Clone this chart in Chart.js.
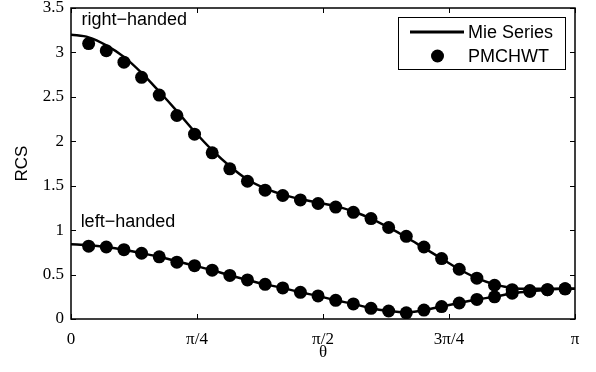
<!DOCTYPE html>
<html>
<head>
<meta charset="utf-8">
<script src="https://cdn.jsdelivr.net/npm/chart.js@4"></script>
<style>
  html, body { margin: 0; padding: 0; background: #fff; }
  canvas { display: block; }
</style>
</head>
<body>
<canvas id="rcsChart" width="596" height="372"></canvas>
<script>
// angles (rad) of the PMCHWT samples
const theta = [0.11, 0.22, 0.33, 0.44, 0.55, 0.66, 0.77, 0.88, 0.99, 1.10,
  1.21, 1.32, 1.43, 1.54, 1.65, 1.76, 1.87, 1.98, 2.09, 2.20,
  2.31, 2.42, 2.53, 2.64, 2.75, 2.86, 2.97, 3.08];
// angles of the Mie series curve (adds both ends)
const mieTheta = [0, 0.11, 0.22, 0.33, 0.44, 0.55, 0.66, 0.77, 0.88, 0.99, 1.10,
  1.21, 1.32, 1.43, 1.54, 1.65, 1.76, 1.87, 1.98, 2.09, 2.20,
  2.31, 2.42, 2.53, 2.64, 2.75, 2.86, 2.97, 3.08, 3.1416];

const mieRight = [3.20, 3.17, 3.08, 2.95, 2.77, 2.56, 2.34, 2.11, 1.90, 1.72, 1.57,
  1.47, 1.40, 1.35, 1.31, 1.27, 1.21, 1.13, 1.03, 0.92, 0.80,
  0.68, 0.56, 0.46, 0.39, 0.35, 0.34, 0.34, 0.34, 0.34];
const mieLeft = [0.84, 0.83, 0.81, 0.78, 0.74, 0.70, 0.65, 0.60, 0.55, 0.49, 0.44,
  0.39, 0.35, 0.30, 0.26, 0.21, 0.17, 0.12, 0.09, 0.075, 0.10,
  0.14, 0.18, 0.22, 0.25, 0.29, 0.31, 0.33, 0.34, 0.34];

const pmRight = [3.10, 3.02, 2.89, 2.72, 2.52, 2.29, 2.08, 1.87, 1.69, 1.55,
  1.45, 1.39, 1.34, 1.30, 1.26, 1.20, 1.13, 1.03, 0.93, 0.81,
  0.68, 0.56, 0.46, 0.38, 0.33, 0.32, 0.33, 0.34];
const pmLeft = [0.82, 0.81, 0.78, 0.74, 0.70, 0.64, 0.60, 0.55, 0.49, 0.44,
  0.39, 0.35, 0.30, 0.26, 0.21, 0.17, 0.12, 0.09, 0.07, 0.10,
  0.14, 0.18, 0.22, 0.25, 0.29, 0.31, 0.33, 0.34];

const xTickValues = [0, Math.PI / 4, Math.PI / 2, 3 * Math.PI / 4, Math.PI];
const xTickLabels = ['0', 'π/4', 'π/2', '3π/4', 'π'];
const yTickValues = [0, 0.5, 1, 1.5, 2, 2.5, 3, 3.5];

const seriesNames = ['Mie Series', 'PMCHWT'];
const notes = [
  { text: 'right−handed', x: 0.065, y: 3.31 },
  { text: 'left−handed', x: 0.06, y: 1.035 }
];

const pts = (xs, ys) => xs.map((v, i) => ({ x: v, y: ys[i] }));

const SANS = '"Liberation Sans", Arial, sans-serif';
const SERIF = '"Liberation Serif", "Times New Roman", serif';

// box, inner ticks, legend and the two labels, drawn MATLAB style
const frame = {
  id: 'frame',
  afterDraw(chart) {
    const { ctx, chartArea: a, scales: { x, y } } = chart;
    ctx.save();

    ctx.strokeStyle = '#000';
    ctx.lineWidth = 1;
    ctx.beginPath();
    const len = 5;
    x.ticks.forEach(t => {
      const px = Math.round(x.getPixelForValue(t.value)) + 0.5;
      ctx.moveTo(px, a.bottom); ctx.lineTo(px, a.bottom - len);
      ctx.moveTo(px, a.top); ctx.lineTo(px, a.top + len);
    });
    y.ticks.forEach(t => {
      const py = Math.round(y.getPixelForValue(t.value)) + 0.5;
      ctx.moveTo(a.left, py); ctx.lineTo(a.left + len, py);
      ctx.moveTo(a.right, py); ctx.lineTo(a.right - len, py);
    });
    ctx.stroke();

    ctx.lineWidth = 1.5;
    ctx.strokeRect(a.left, a.top, a.right - a.left, a.bottom - a.top);

    // notes
    ctx.fillStyle = '#000';
    ctx.font = '18px ' + SANS;
    ctx.textAlign = 'left';
    ctx.textBaseline = 'alphabetic';
    notes.forEach(n => ctx.fillText(n.text, x.getPixelForValue(n.x), y.getPixelForValue(n.y)));

    // legend
    const bw = 167, bh = 52;
    const bx = a.right - 10 - bw, by = a.top + 9;
    ctx.fillStyle = '#fff';
    ctx.fillRect(bx, by, bw, bh);
    ctx.lineWidth = 1;
    ctx.strokeStyle = '#000';
    ctx.strokeRect(bx + 0.5, by + 0.5, bw, bh);
    const r1 = by + 15, r2 = by + 39;
    ctx.lineWidth = 3;
    ctx.beginPath();
    ctx.moveTo(bx + 12, r1); ctx.lineTo(bx + 66, r1);
    ctx.stroke();
    ctx.fillStyle = '#000';
    ctx.beginPath();
    ctx.arc(bx + 39.5, r2, 6.5, 0, Math.PI * 2);
    ctx.fill();
    ctx.font = '18px ' + SANS;
    ctx.textBaseline = 'middle';
    ctx.fillText(seriesNames[0], bx + 70, r1 + 1);
    ctx.fillText(seriesNames[1], bx + 70, r2 + 1);

    ctx.restore();
  }
};

new Chart(document.getElementById('rcsChart'), {
  type: 'line',
  data: {
    datasets: [
      { label: seriesNames[0], data: pts(mieTheta, mieRight), borderColor: '#000', borderWidth: 2.5,
        pointRadius: 0, cubicInterpolationMode: 'monotone' },
      { label: seriesNames[0], data: pts(mieTheta, mieLeft), borderColor: '#000', borderWidth: 2.5,
        pointRadius: 0, cubicInterpolationMode: 'monotone' },
      { label: seriesNames[1], data: pts(theta, pmRight), showLine: false, pointRadius: 6.5,
        backgroundColor: '#000', borderColor: '#000', borderWidth: 0 },
      { label: seriesNames[1], data: pts(theta, pmLeft), showLine: false, pointRadius: 6.5,
        backgroundColor: '#000', borderColor: '#000', borderWidth: 0 }
    ]
  },
  options: {
    responsive: false,
    animation: false,
    devicePixelRatio: 1,
    layout: { padding: { top: 8, right: 21, left: 0, bottom: 0 } },
    plugins: { legend: { display: false }, tooltip: { enabled: false } },
    scales: {
      x: {
        type: 'linear',
        min: 0,
        max: Math.PI,
        afterFit: s => { s.height = 53; s.paddingLeft = 0; s.paddingRight = 0; },
        afterBuildTicks: s => { s.ticks = xTickValues.map(v => ({ value: v })); },
        grid: { display: false, drawTicks: false },
        border: { display: false },
        ticks: {
          color: '#000',
          padding: 10,
          maxRotation: 0,
          font: { family: SERIF, size: 17 },
          callback: (v, i) => xTickLabels[i]
        },
        title: { display: true, text: 'θ', color: '#000', font: { family: SERIF, size: 17 }, padding: { top: 0, bottom: 9 } }
      },
      y: {
        min: 0,
        max: 3.5,
        afterFit: s => { s.width = 71; s.paddingTop = 0; s.paddingBottom = 0; },
        afterBuildTicks: s => { s.ticks = yTickValues.map(v => ({ value: v })); },
        grid: { display: false, drawTicks: false },
        border: { display: false },
        ticks: {
          color: '#000',
          padding: 7,
          font: { family: SERIF, size: 17 },
          callback: v => String(v)
        },
        title: { display: true, text: 'RCS', color: '#000', font: { family: SANS, size: 17 }, padding: { top: 12, bottom: 0 } }
      }
    }
  },
  plugins: [frame]
});
</script>
</body>
</html>
